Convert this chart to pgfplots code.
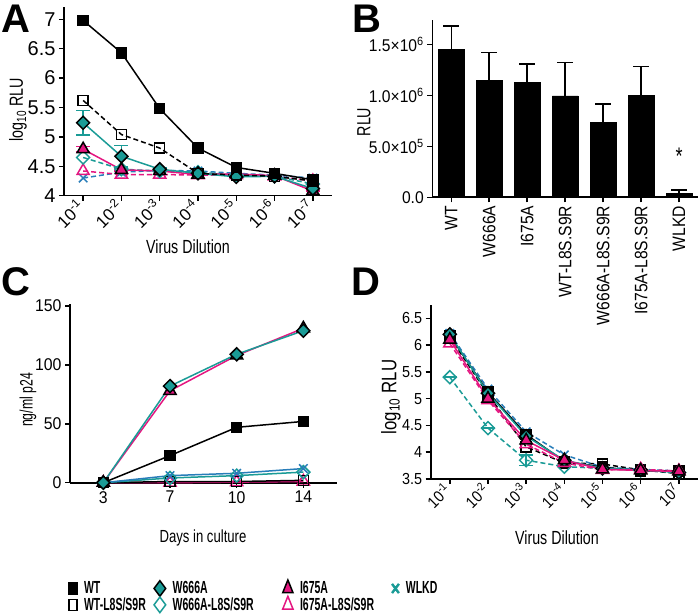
\documentclass[border=0pt]{standalone}
\usepackage{fontspec}
\setmainfont{Liberation Sans}
\newfontfamily\fA{Liberation Sans}[FakeStretch=1.0]
\newfontfamily\fB{Liberation Sans}[FakeStretch=0.92]
\newfontfamily\fBx{Liberation Sans}[FakeStretch=0.87]
\newfontfamily\fC{Liberation Sans}[FakeStretch=0.93]
\newfontfamily\fD{Liberation Sans}[FakeStretch=0.9]
\newfontfamily\labf{Liberation Sans}[FakeStretch=0.75]
\newfontfamily\labn{Liberation Sans}[FakeStretch=0.68]
\newfontfamily\labd{Liberation Sans}[FakeStretch=0.8]
\newfontfamily\legf{Liberation Sans}[FakeStretch=0.6]
\usepackage{pgfplots}
\pgfplotsset{compat=1.18}
\definecolor{tealc}{RGB}{26,155,150}
\definecolor{magc}{RGB}{228,22,128}
\definecolor{wlkdc}{RGB}{40,125,185}
\pgfplotsset{
  panel/.style={scale only axis, axis lines=left, axis line style={-, line width=1.6bp},
    tick align=outside, major tick length=5bp, tick style={line width=1.5bp, black},
    clip=false,
    /pgf/number format/assume math mode=true, anchor=south west,
    every axis plot/.append style={line width=1.5bp}},
  dsh/.style={dash pattern=on 5bp off 3bp},
  wt/.style={black, solid, mark=square*, mark size=5bp, mark options={solid, fill=black}},
  wtm/.style={black, dsh, mark=square, mark size=5bp, mark options={solid, fill=white}},
  w6/.style={tealc, solid, mark=square*, mark size=4.6bp, mark options={solid, rotate=45, fill=tealc, draw=black}},
  w6m/.style={tealc, dsh, mark=square, mark size=4.6bp, mark options={solid, rotate=45, fill=white}},
  i6/.style={magc, solid, mark=triangle*, mark size=7bp, mark options={solid, fill=magc, draw=black}},
  i6m/.style={magc, dsh, mark=triangle, mark size=7bp, mark options={solid, fill=white}},
  wl/.style={wlkdc, dsh, mark=x, mark size=6bp, mark options={solid}},
  ebar/.style={error bars/.cd, y dir=both, y explicit, error bar style={line width=1.5bp, solid}, error mark options={rotate=90, mark size=7bp, line width=1.5bp, solid}},
}
\begin{document}
\begin{tikzpicture}
\useasboundingbox (0,0) rectangle (700bp,615bp);
% ---------------- Panel A
\begin{axis}[panel, at={(64bp,419.3bp)}, width=268bp, height=188.2bp,
  ticklabel style={font=\fA\fontsize{20bp}{21bp}\selectfont},
  xmin=0.5, xmax=7.5, ymin=4, ymax=7.2,
  xtick={1,...,7}, xticklabels={10\textsuperscript{-1},10\textsuperscript{-2},10\textsuperscript{-3},10\textsuperscript{-4},10\textsuperscript{-5},10\textsuperscript{-6},10\textsuperscript{-7}},
  x tick label style={rotate=45, anchor=east, font=\fA\fontsize{17bp}{18bp}\selectfont},
  ytick={4,4.5,5,5.5,6,6.5,7}]
\addplot[wl] coordinates {(1,4.30) (2,4.40) (3,4.43) (4,4.42) (5,4.38) (6,4.35) (7,4.30)};
\addplot[i6m] coordinates {(1,4.42) (2,4.36) (3,4.36) (4,4.35) (5,4.35) (6,4.33) (7,4.25)};
\addplot[w6m] coordinates {(1,4.65) (2,4.45) (3,4.42) (4,4.40) (5,4.35) (6,4.33) (7,4.20)};
\addplot[i6, ebar] coordinates {(1,4.79) +- (0,0.05) (2,4.44) +- (0,0.02) (3,4.42) +- (0,0) (4,4.36) +- (0,0) (5,4.37) +- (0,0) (6,4.34) +- (0,0) (7,4.08) +- (0,0)};
\addplot[w6, ebar] coordinates {(1,5.24) +- (0,0.21) (2,4.67) +- (0,0.18) (3,4.45) +- (0,0.02) (4,4.38) +- (0,0) (5,4.32) +- (0,0) (6,4.33) +- (0,0) (7,4.12) +- (0,0)};
\addplot[wtm] coordinates {(1,5.62) (2,5.04) (3,4.81) (4,4.38) (5,4.35) (6,4.33) (7,4.25)};
\addplot[wt] coordinates {(1,6.98) (2,6.43) (3,5.48) (4,4.81) (5,4.48) (6,4.38) (7,4.27)};
\end{axis}
% ---------------- Panel B
\begin{axis}[panel, at={(432.3bp,417.7bp)}, width=265.7bp, height=177.5bp,
  y tick label style={font=\fB\fontsize{17bp}{18bp}\selectfont},
  xmin=-0.5, xmax=6.5, ymin=0, ymax=1.74e6, ybar, bar width=25.7bp,
  xtick={0,...,6}, xticklabels={WT,W666A,I675A,WT-L8S.S9R,W666A-L8S.S9R,I675A-L8S.S9R,WLKD},
  x tick label style={rotate=90, anchor=east, font=\fBx\fontsize{18bp}{19bp}\selectfont},
  scaled y ticks=false, ytick={0,5e5,1e6,1.5e6},
  yticklabels={0.0,5.0×10\textsuperscript{5},1.0×10\textsuperscript{6},1.5×10\textsuperscript{6}}]
\addplot[fill=black, draw=black, line width=0.5bp, error bars/.cd, y dir=plus, y explicit,
  error bar style={line width=1.5bp, black}, error mark options={rotate=90, mark size=8bp, line width=1.5bp, black}]
  coordinates {(0,1.45e6) +- (0,0.23e6) (1,1.147e6) +- (0,0.27e6) (2,1.127e6) +- (0,0.18e6)
   (3,0.993e6) +- (0,0.33e6) (4,0.735e6) +- (0,0.18e6) (5,0.996e6) +- (0,0.285e6) (6,0.04e6) +- (0,0.03e6)};
\node[font=\labf\fontsize{24bp}{24bp}\selectfont] at (axis cs:6,4.0e5) {*};
\end{axis}
% ---------------- Panel C
\begin{axis}[panel, at={(70bp,132.3bp)}, width=266.7bp, height=179.1bp,
  ticklabel style={font=\fC\fontsize{17bp}{18bp}\selectfont},
  xmin=-0.5, xmax=3.5, ymin=0, ymax=152,
  xtick={0,1,2,3}, xticklabels={3,7,10,14}, ytick={0,50,100,150},
  legend columns=4, legend cell align=left,
  legend image code/.code={\draw[#1] plot coordinates {(0bp,0bp)};},
  legend style={at={(-0.004,-0.542)}, anchor=north west, draw=none, fill=none, inner sep=0pt,
    font=\legf\bfseries\fontsize{17.5bp}{18bp}\selectfont, row sep=0bp,
    nodes={inner xsep=0pt, inner ysep=1bp},
    /tikz/every odd column/.style={column sep=7bp}}]
\addplot[forget plot, i6m, solid] coordinates {(0,0) (1,0) (2,0.5) (3,1)};
\addplot[forget plot, wtm, solid] coordinates {(0,0) (1,1) (2,1) (3,2)};
\addplot[forget plot, w6m, solid] coordinates {(0,0) (1,4) (2,6) (3,9)};
\addplot[forget plot, wl, solid] coordinates {(0,0) (1,6) (2,8) (3,12)};
\addplot[forget plot, wt] coordinates {(0,0) (1,23) (2,47) (3,52)};
\addplot[forget plot, i6] coordinates {(0,0) (1,78) (2,108) (3,131)};
\addplot[forget plot, w6] coordinates {(0,0) (1,82) (2,109) (3,129)};
\addlegendimage{only marks, mark=square*, black, mark size=5.5bp, mark options={xscale=0.72}}
\addlegendentry{\makebox[70bp][l]{WT}}
\addlegendimage{only marks, mark=square*, mark size=5.5bp, mark options={xscale=0.75, rotate=45, fill=tealc, draw=black}, line width=1.5bp}
\addlegendentry{\makebox[110bp][l]{W666A}}
\addlegendimage{only marks, mark=triangle*, mark size=8.5bp, mark options={xscale=0.7, fill=magc, draw=black}, line width=1.5bp}
\addlegendentry{\makebox[92bp][l]{I675A}}
\addlegendimage{only marks, mark=x, mark size=6.5bp, mark options={xscale=0.75}, tealc, line width=2.4bp}
\addlegendentry{WLKD}
\addlegendimage{only marks, mark=square, black, mark size=5.5bp, mark options={xscale=0.72}, line width=1.5bp}
\addlegendentry{\makebox[70bp][l]{WT-L8S/S9R}}
\addlegendimage{only marks, mark=square, mark size=5.5bp, mark options={xscale=0.75, rotate=45}, tealc, line width=1.5bp}
\addlegendentry{\makebox[110bp][l]{W666A-L8S/S9R}}
\addlegendimage{only marks, mark=triangle, mark size=8.5bp, mark options={xscale=0.7}, magc, line width=1.5bp}
\addlegendentry{\makebox[92bp][l]{I675A-L8S/S9R}}
\end{axis}
% ---------------- Panel D
\begin{axis}[panel, at={(430.7bp,136bp)}, width=267.3bp, height=174.1bp,
  ticklabel style={font=\fD\fontsize{16bp}{17bp}\selectfont},
  xmin=0.5, xmax=7.5, ymin=3.5, ymax=6.75,
  xtick={1,...,7}, xticklabels={10\textsuperscript{-1},10\textsuperscript{-2},10\textsuperscript{-3},10\textsuperscript{-4},10\textsuperscript{-5},10\textsuperscript{-6},10\textsuperscript{7}},
  x tick label style={rotate=45, anchor=east},
  ytick={3.5,4,4.5,5,5.5,6,6.5}]
\addplot[wtm] coordinates {(1,6.15) (2,5.08) (3,4.10) (4,3.80) (5,3.78) (6,3.67) (7,3.60)};
\addplot[wl] coordinates {(1,6.22) (2,5.18) (3,4.38) (4,3.95) (5,3.72) (6,3.68) (7,3.65)};
\addplot[w6m, ebar] coordinates {(1,5.40) +- (0,0) (2,4.45) +- (0,0) (3,3.85) +- (0,0.1) (4,3.73) +- (0,0) (5,3.70) +- (0,0) (6,3.66) +- (0,0) (7,3.62) +- (0,0)};
\addplot[wt] coordinates {(1,6.18) (2,5.12) (3,4.33) (4,3.83) (5,3.72) (6,3.65) (7,3.65)};
\addplot[w6] coordinates {(1,6.20) (2,5.10) (3,4.30) (4,3.85) (5,3.70) (6,3.67) (7,3.62)};
\addplot[i6m] coordinates {(1,6.03) (2,4.97) (3,4.15) (4,3.80) (5,3.67) (6,3.68) (7,3.65)};
\addplot[i6] coordinates {(1,6.10) (2,5.00) (3,4.22) (4,3.85) (5,3.68) (6,3.66) (7,3.64)};
\end{axis}
% ---------------- labels
\node[rotate=90, font=\labf\fontsize{19bp}{20bp}\selectfont] at (18bp,505bp) {log\textsubscript{10} RLU};
\node[font=\labf\fontsize{19bp}{20bp}\selectfont] at (188bp,368bp) {Virus Dilution};
\node[rotate=90, font=\labf\fontsize{19bp}{20bp}\selectfont] at (364bp,493bp) {RLU};
\node[rotate=90, font=\labn\fontsize{18bp}{19bp}\selectfont] at (28bp,215bp) {ng/ml p24};
\node[font=\labf\fontsize{17.5bp}{18bp}\selectfont] at (203bp,77bp) {Days in culture};
\node[rotate=90, font=\labd\fontsize{21bp}{22bp}\selectfont] at (391bp,218bp) {log\textsubscript{10} RLU};
\node[font=\labf\fontsize{19bp}{20bp}\selectfont] at (557bp,77bp) {Virus Dilution};
\node[font=\bfseries\fontsize{40bp}{40bp}\selectfont] at (16bp,596bp) {A};
\node[font=\bfseries\fontsize{40bp}{40bp}\selectfont] at (367bp,596bp) {B};
\node[font=\bfseries\fontsize{40bp}{40bp}\selectfont] at (16bp,333bp) {C};
\node[font=\bfseries\fontsize{40bp}{40bp}\selectfont] at (366bp,333bp) {D};
\end{tikzpicture}
\end{document}
